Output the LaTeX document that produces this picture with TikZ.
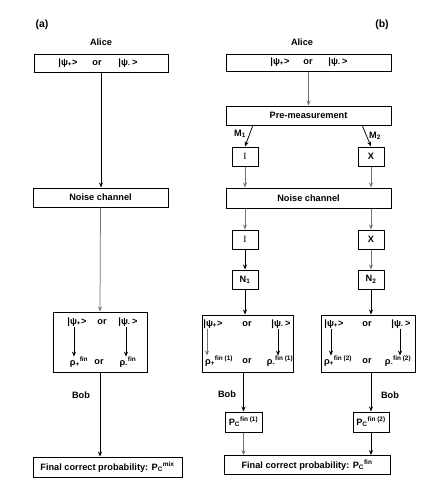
\documentclass[tikz,border=0pt]{standalone}
\usepackage{fontspec}
\setmainfont{Liberation Sans}
\newfontfamily\serifI{Liberation Serif}
\usetikzlibrary{arrows.meta}
\newcommand{\kpsip}{|ψ\textsubscript{+}>}
\newcommand{\kpsim}{|ψ\textsubscript{-}\,>}
\tikzset{
  txt/.style={font=\bfseries\fontsize{9.2}{10}\selectfont, inner sep=0pt},
  box/.style={txt, draw, line width=1pt, fill=white},
  arr/.style={-{Stealth[length=5pt,width=4pt]}, line width=0.75pt},
  garr/.style={arr, draw=black!55},
  ttl/.style={font=\bfseries\fontsize{10.5}{12}\selectfont, inner sep=0pt},
}
\begin{document}
\begin{tikzpicture}[x=1pt,y=-1pt]
\useasboundingbox (0,0) rectangle (436,504);
% ---------------- panel (a)
\node[ttl] (la) at (42,25) {(a)};
\node[txt] (aAlice) at (101,42) {Alice};
\node[box, minimum width=134pt, minimum height=18pt] (aTop) at (101,63) {};
\node[txt] at (68,63) {\kpsip};
\node[txt] at (97,63) {or};
\node[txt] at (128,63) {\kpsim};
\node[box, minimum width=135pt, minimum height=19pt] (aNoise) at (100.5,197.5) {Noise channel};
\node[box, minimum width=94pt, minimum height=60pt] (aLow) at (100,342) {};
\node[txt] (aP) at (77,322) {\kpsip};
\node[txt] at (102,322) {or};
\node[txt] (aM) at (128,322) {\kpsim};
\node[txt] (aRp) at (79,362) {ρ\textsubscript{+}\textsuperscript{fin}};
\node[txt] at (99,362) {or};
\node[txt] (aRm) at (128,362) {ρ\textsubscript{-}\textsuperscript{fin}};
\node[txt] (aBob) at (81,395) {Bob};
\node[box, minimum width=149pt, minimum height=20pt] (aFin) at (107.5,467) {Final correct probability: P\textsubscript{C}\textsuperscript{mix}};
\draw[arr] (aTop.south) -- (aTop.south |- aNoise.north);
\draw[garr] (aNoise.south) -- (aLow.north);
\draw[arr] ([xshift=-3pt]aP.south) -- ([xshift=-3pt]aP.south |- aRp.north);
\draw[arr] ([xshift=-2pt]aM.south) -- ([xshift=-2pt]aM.south |- aRm.north);
\draw[arr] (aLow.south) -- (aLow.south |- aFin.north);
% ---------------- panel (b)
\node[ttl] (lb) at (382,25) {(b)};
\node[txt] (bAlice) at (302,42) {Alice};
\node[box, minimum width=165pt, minimum height=17pt] (bTop) at (308.5,62.5) {};
\node[txt] at (280,62.5) {\kpsip};
\node[txt] at (308,62.5) {or};
\node[txt] at (338,62.5) {\kpsim};
\node[box, minimum width=165pt, minimum height=19pt] (bPre) at (308.5,115.5) {Pre-measurement};
\coordinate (m1) at (253,125);
\coordinate (m2) at (362,125);
\node[box, minimum width=26pt, minimum height=19pt, font=\serifI\fontsize{9.5}{10}\selectfont] (bI1) at (245,156.5) {I};
\node[box, minimum width=26pt, minimum height=19pt] (bX1) at (371,156.5) {X};
\node[txt] (bM1) at (240,134) {M\textsubscript{1}};
\node[txt] (bM2) at (375,136) {M\textsubscript{2}};
\node[box, minimum width=165pt, minimum height=20pt] (bNoise) at (308.5,198) {Noise channel};
\node[box, minimum width=26pt, minimum height=19pt, font=\serifI\fontsize{9.5}{10}\selectfont] (bI2) at (245,239.5) {I};
\node[box, minimum width=26pt, minimum height=19pt] (bX2) at (371,239.5) {X};
\node[box, minimum width=26pt, minimum height=19pt] (bN1) at (245,279.5) {N\textsubscript{1}};
\node[box, minimum width=26pt, minimum height=19pt] (bN2) at (371,279.5) {N\textsubscript{2}};
\node[box, minimum width=91pt, minimum height=57pt] (bLow1) at (247.5,343.5) {};
\node[box, minimum width=94pt, minimum height=57pt] (bLow2) at (368,343.5) {};
\node[txt] (bP1) at (213,324) {\kpsip};
\node[txt] at (247,324) {or};
\node[txt] (bM1k) at (281,324) {\kpsim};
\node[txt] (bR1p) at (219,361) {ρ\textsubscript{+}\textsuperscript{fin (1)}};
\node[txt] at (247,361) {or};
\node[txt] (bR1m) at (280,361) {ρ\textsubscript{-}\textsuperscript{fin (1)}};
\node[txt] (bP2) at (334,324) {\kpsip};
\node[txt] at (367,324) {or};
\node[txt] (bM2k) at (401,324) {\kpsim};
\node[txt] (bR2p) at (338,361) {ρ\textsubscript{+}\textsuperscript{fin (2)}};
\node[txt] at (367,361) {or};
\node[txt] (bR2m) at (398,361) {ρ\textsubscript{-}\textsuperscript{fin (2)}};
\node[txt] (bBob1) at (227,394) {Bob};
\node[txt] (bBob2) at (390,395) {Bob};
\node[box, minimum width=37pt, minimum height=20pt] (bPc1) at (243.5,422) {P\textsubscript{C}\textsuperscript{fin (1)}};
\node[box, minimum width=36pt, minimum height=20pt] (bPc2) at (371,422) {P\textsubscript{C}\textsuperscript{fin (2)}};
\node[box, minimum width=166pt, minimum height=19pt] (bFin) at (307,465) {Final correct probability: P\textsubscript{C}\textsuperscript{fin}};
% connectors (b)
\draw[garr] (bTop.south) -- (bPre.north);
\draw[arr] (m1) -- (bI1.north);
\draw[arr] (m2) -- (bX1.north);
\draw[garr] (bI1.south) -- (bI1.south |- bNoise.north);
\draw[garr] (bX1.south) -- (bX1.south |- bNoise.north);
\draw[garr] (bI2.south |- bNoise.south) -- (bI2.north);
\draw[garr] (bX2.south |- bNoise.south) -- (bX2.north);
\draw[arr] (bI2.south) -- (bN1.north);
\draw[garr] (bX2.south) -- (bN2.north);
\draw[arr] (bN1.south) -- (bN1.south |- bLow1.north);
\draw[arr] (bN2.south) -- (bN2.south |- bLow2.north);
\draw[garr] ([xshift=-6pt]bP1.south) -- ([xshift=-6pt]bP1.south |- bR1p.north);
\draw[arr] ([xshift=-3pt]bM1k.south) -- ([xshift=-3pt]bM1k.south |- bR1m.north);
\draw[arr] ([xshift=-3pt]bP2.south) -- ([xshift=-3pt]bP2.south |- bR2p.north);
\draw[arr] ([xshift=-1pt]bM2k.south) -- ([xshift=-1pt]bM2k.south |- bR2m.north);
\draw[arr] (bPc1.north |- bLow1.south) -- (bPc1.north);
\draw[arr] (bPc2.north |- bLow2.south) -- (bPc2.north);
\draw[garr] (bPc1.south) -- (bPc1.south |- bFin.north);
\draw[arr] (bPc2.south) -- (bPc2.south |- bFin.north);
\end{tikzpicture}
\end{document}
